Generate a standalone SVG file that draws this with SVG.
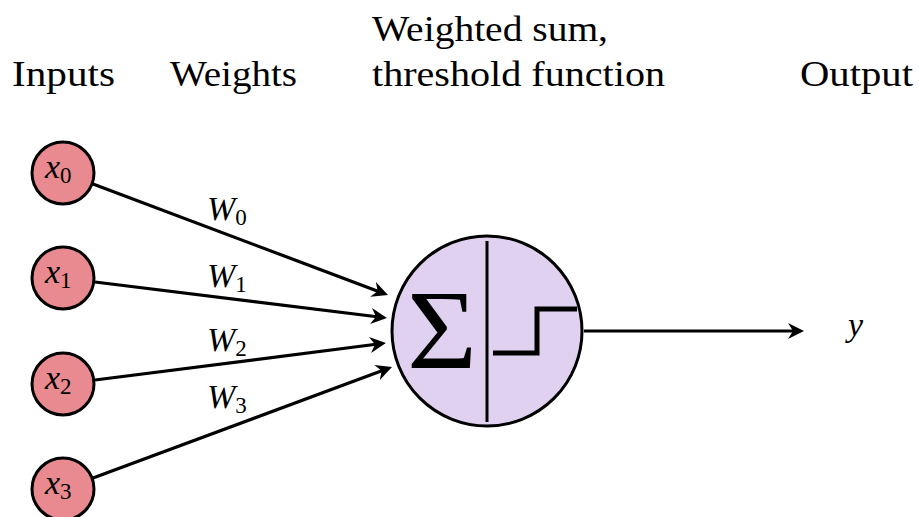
<svg xmlns="http://www.w3.org/2000/svg" width="919" height="517" viewBox="0 0 919 517">
<style>
.in{fill:#e88a8f;stroke:#000;stroke-width:3}
.neu{fill:#e0d1f0;stroke:#000;stroke-width:3}
.edge{stroke:#000;stroke-width:3.2;fill:none}
</style>
<defs>
<marker id="arr" viewBox="0 0 16 16" markerWidth="16" markerHeight="16" refX="8" refY="8" orient="auto" markerUnits="userSpaceOnUse">
<path d="M16,8 L0,0 L5,8 L0,16 Z" fill="#000"/>
</marker>
</defs>
<rect width="919" height="517" fill="#fff"/>
<g id="headings">
<text x="12" y="86" style="font-family:'Liberation Serif',serif;font-size:35px" textLength="103" lengthAdjust="spacingAndGlyphs">Inputs</text>
<text x="170" y="86" style="font-family:'Liberation Serif',serif;font-size:35px" textLength="127" lengthAdjust="spacingAndGlyphs">Weights</text>
<text x="372" y="41" style="font-family:'Liberation Serif',serif;font-size:35px" textLength="236" lengthAdjust="spacingAndGlyphs">Weighted sum,</text>
<text x="372" y="86" style="font-family:'Liberation Serif',serif;font-size:35px" textLength="293" lengthAdjust="spacingAndGlyphs">threshold function</text>
<text x="800" y="86" style="font-family:'Liberation Serif',serif;font-size:35px" textLength="113" lengthAdjust="spacingAndGlyphs">Output</text>
</g>
<g id="connectors">
<line class="edge" x1="93" y1="184" x2="380.5" y2="292.2" marker-end="url(#arr)"/>
<line class="edge" x1="95" y1="282" x2="379" y2="317" marker-end="url(#arr)"/>
<line class="edge" x1="95" y1="380" x2="378" y2="344" marker-end="url(#arr)"/>
<line class="edge" x1="93" y1="478" x2="384.5" y2="369.8" marker-end="url(#arr)"/>
<line class="edge" x1="584" y1="331" x2="796" y2="331" marker-end="url(#arr)"/>
</g>
<g id="x0"><circle class="in" cx="63" cy="173" r="31"/><text x="45" y="178" style="font-family:'Liberation Serif',serif;font-size:34px;font-style:italic">x<tspan dy="5" style="font-family:'Liberation Serif',serif;font-size:23px;font-style:normal">0</tspan></text></g>
<g id="x1"><circle class="in" cx="63" cy="278" r="31"/><text x="45" y="283" style="font-family:'Liberation Serif',serif;font-size:34px;font-style:italic">x<tspan dy="5" style="font-family:'Liberation Serif',serif;font-size:23px;font-style:normal">1</tspan></text></g>
<g id="x2"><circle class="in" cx="63" cy="384" r="31"/><text x="45" y="389" style="font-family:'Liberation Serif',serif;font-size:34px;font-style:italic">x<tspan dy="5" style="font-family:'Liberation Serif',serif;font-size:23px;font-style:normal">2</tspan></text></g>
<g id="x3"><circle class="in" cx="63" cy="489" r="31"/><text x="45" y="494" style="font-family:'Liberation Serif',serif;font-size:34px;font-style:italic">x<tspan dy="5" style="font-family:'Liberation Serif',serif;font-size:23px;font-style:normal">3</tspan></text></g>
<g id="weights">
<text x="207" y="220" style="font-family:'Liberation Serif',serif;font-size:34px;font-style:italic">W<tspan dy="5" style="font-family:'Liberation Serif',serif;font-size:23px;font-style:normal">0</tspan></text>
<text x="207" y="287" style="font-family:'Liberation Serif',serif;font-size:34px;font-style:italic">W<tspan dy="5" style="font-family:'Liberation Serif',serif;font-size:23px;font-style:normal">1</tspan></text>
<text x="207" y="351" style="font-family:'Liberation Serif',serif;font-size:34px;font-style:italic">W<tspan dy="5" style="font-family:'Liberation Serif',serif;font-size:23px;font-style:normal">2</tspan></text>
<text x="207" y="408" style="font-family:'Liberation Serif',serif;font-size:34px;font-style:italic">W<tspan dy="5" style="font-family:'Liberation Serif',serif;font-size:23px;font-style:normal">3</tspan></text>
</g>
<g id="neuron">
<circle class="neu" cx="487" cy="331" r="95"/>
<line x1="487" y1="241" x2="487" y2="422" stroke="#000" stroke-width="3"/>
<text x="407" y="368" style="font-family:'Liberation Serif',serif;font-size:112px" textLength="70" lengthAdjust="spacingAndGlyphs">Σ</text>
<polyline points="493,353 537,353 537,309 577,309" fill="none" stroke="#000" stroke-width="5"/>
</g>
<g id="output"><text x="848" y="336" style="font-family:'Liberation Serif',serif;font-size:34px;font-style:italic">y</text></g>
</svg>
